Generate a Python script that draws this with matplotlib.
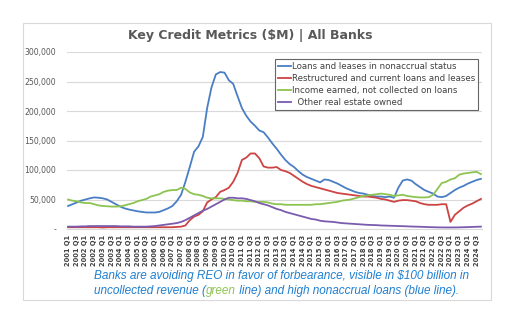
import numpy as np
import matplotlib
matplotlib.use("Agg")
import matplotlib.pyplot as plt
from matplotlib.patches import Rectangle
from matplotlib.ticker import FuncFormatter

# quarterly, 2001 Q1 .. 2024 Q4, values in $ thousands of millions (k)
years = list(range(2001, 2025))
quarters = [f"{y} Q{q}" for y in years for q in (1, 2, 3, 4)]

nonaccrual = [39, 42, 45, 48, 50, 52, 53.5, 53, 52, 50, 46, 42, 38, 35, 33, 31.5,
              30, 29, 28, 28, 28, 29, 32, 35, 39, 47, 58, 80, 105, 131, 140, 156,
              205, 240, 262, 266, 265, 252, 246, 225, 205, 192, 182, 175, 167, 164, 155, 145,
              136, 126, 117, 110, 105, 98, 92, 88, 85, 82, 79, 84, 83, 80, 77, 73,
              69, 66, 63, 61, 60, 58, 56, 55, 55, 54, 55, 53, 70, 82, 84, 82,
              76, 71, 66, 63, 60, 55, 54, 56, 61, 66, 70, 73, 77, 80, 83, 85]

restructured = [3, 3, 3, 3, 3, 3, 3, 3, 2.5, 3, 3, 3, 3, 3, 3, 3,
                3, 3, 3, 3, 3, 3, 3, 3, 3, 3.5, 4, 6, 15, 21, 24, 30,
                45, 50, 54, 63, 66, 70, 80, 95, 117, 121, 128, 128, 120, 106, 104, 104,
                105, 100, 98, 95, 90, 85, 80, 76, 73, 71, 69, 67, 65, 63, 61, 60,
                59, 58, 57, 56, 55, 55, 54, 53, 51, 50, 48, 46, 48, 49, 49, 48,
                47, 44, 42, 41, 41, 41, 42, 42, 12, 24, 30, 36, 40, 43, 47, 51]

income_uncollected = [50, 48, 47, 45, 44, 44, 42, 40, 39, 38.5, 38, 38, 38.5, 40, 42, 44,
                      47, 49, 51, 55, 57, 59, 63, 65, 66, 66, 70, 68, 62, 59, 58, 56,
                      53, 52, 52, 52, 51, 50, 49, 48, 48, 47, 47, 46, 46, 46, 45, 43,
                      42, 42, 41, 41, 41, 41, 41, 41, 41, 42, 42, 43, 44, 45, 46, 48,
                      49, 50, 52, 54, 56, 57, 58, 59, 60, 59, 58, 56, 57, 58, 56, 55,
                      54, 53.5, 53.5, 54, 58, 68, 78, 80, 84, 86, 92, 94, 95, 96, 97, 93]

oreo = [4, 4, 4, 4.5, 4.5, 5, 5, 5, 5, 5, 5, 5, 4.5, 4.5, 4.5, 4,
        4, 4, 4, 4.5, 5, 6, 7, 8, 9, 10, 12, 15, 19, 23, 27, 31,
        34, 38, 42, 46, 50, 53, 53, 52, 52, 51, 49, 47, 44, 42, 40, 37,
        34, 32, 29, 27, 25, 23, 21, 19, 17, 16, 14, 13, 12.5, 12, 11, 10,
        9.5, 9, 8.5, 8, 7.5, 7, 6.8, 6.5, 6, 5.8, 5.5, 5.3, 5, 4.8, 4.5, 4.2,
        4, 3.8, 3.5, 3.2, 3, 2.8, 2.7, 2.6, 2.6, 2.7, 2.8, 3, 3.2, 3.5, 3.8, 4]

labels = ["Loans and leases in nonaccrual status",
          "Restructured and current loans and leases",
          "Income earned, not collected on loans",
          "  Other real estate owned"]
colors = ["#4A7EC4", "#CC4444", "#8DC451", "#7B5BAE"]

fig = plt.figure(figsize=(5.12, 3.22), dpi=100)
fig.patch.set_facecolor("white")
fig.patches.append(Rectangle((23 / 512, 1 - 300 / 322), 468 / 512, 277 / 322,
                             transform=fig.transFigure, fill=False,
                             edgecolor="#D9D9D9", linewidth=0.8))

ax = fig.add_axes([67 / 512, 1 - 229 / 322, 415 / 512, 177 / 322])
x = np.arange(len(quarters))
for series, lab, col in zip([nonaccrual, restructured, income_uncollected, oreo], labels, colors):
    ax.plot(x, np.array(series) * 1000, color=col, linewidth=1.3, label=lab)

ax.set_xlim(-0.25, len(quarters) - 0.75)
ax.set_ylim(0, 300000)
ax.set_yticks(np.arange(0, 300001, 50000))
ax.yaxis.set_major_formatter(FuncFormatter(lambda v, p: "-" if v == 0 else f"{int(v):,}"))
ax.set_xticks(x[::2])
ax.set_xticklabels(quarters[::2], rotation=90, fontsize=4.8, fontweight="bold", color="#404040")
ax.tick_params(axis="y", labelsize=5.6, colors="#595959", length=0, pad=8)
ax.tick_params(axis="x", length=0, pad=4)
ax.grid(axis="y", color="#D9D9D9", linewidth=0.8)
ax.set_axisbelow(True)
for s in ["top", "right", "left"]:
    ax.spines[s].set_visible(False)
ax.spines["bottom"].set_color("#D9D9D9")

leg = ax.legend(loc="upper left", bbox_to_anchor=(204 / 415, 174 / 177), fontsize=6.2,
                handlelength=1.5, handletextpad=0.1, borderpad=0.35, labelspacing=0.35,
                frameon=True, fancybox=False, labelcolor="#404040")
leg.get_frame().set_edgecolor("#404040")
leg.get_frame().set_linewidth(0.8)

fig.text(250 / 512, 1 - 35 / 322, "Key Credit Metrics ($M) | All Banks", ha="center", va="center",
         fontsize=9, fontweight="bold", color="#595959")

blue_txt = "#1F7FD0"
cap_font = dict(fontsize=8.5, style="italic", family="Liberation Sans", va="center")
fig.text(94 / 512, 1 - 276 / 322,
         "Banks are avoiding REO in favor of forbearance, visible in $100 billion in",
         color=blue_txt, **cap_font)
fig.canvas.draw()
r = fig.canvas.get_renderer()
parts = [("uncollected revenue (", blue_txt), ("green", "#8DC451"),
         (" line) and high nonaccrual loans (blue line).", blue_txt)]
xpos = 94
for txt, col in parts:
    t = fig.text(xpos / 512, 1 - 291 / 322, txt, color=col, **cap_font)
    bb = t.get_window_extent(renderer=r)
    xpos = bb.x1

fig.savefig("out.png", dpi=100)
